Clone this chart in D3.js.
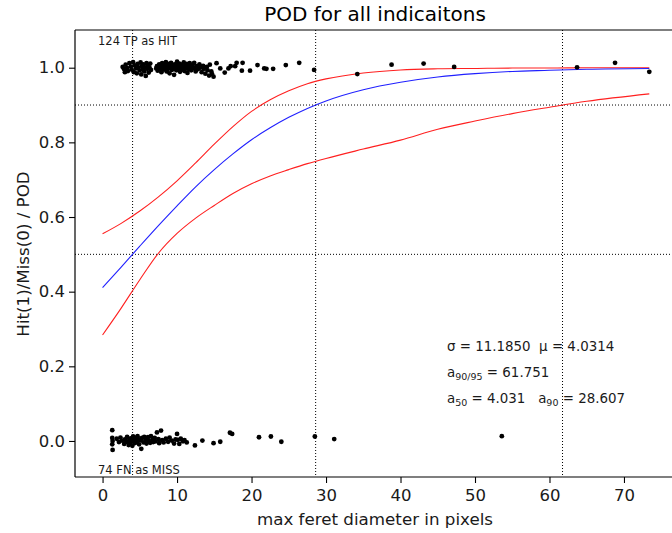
<!DOCTYPE html>
<html lang="en">
<head>
<meta charset="UTF-8">
<title>POD for all indicaitons</title>
<script src="https://d3js.org/d3.v7.min.js"></script>
<style>
  body { margin: 0; background: #fff; }
  svg { display: block; font-family: "DejaVu Sans", sans-serif; }
</style>
</head>
<body>
<script>
// DATA
const xTicks = [0, 10, 20, 30, 40, 50, 60, 70];
const yTicks = [0.0, 0.2, 0.4, 0.6, 0.8, 1.0];

const podX     = [0, 2.5, 5, 7.5, 10, 12.5, 15, 17.5, 20, 22.5, 25, 27.5, 30, 35, 40, 45, 50, 55, 60, 65, 73.4];
const podFit   = [0.411, 0.466, 0.522, 0.577, 0.630, 0.681, 0.727, 0.769, 0.807, 0.839, 0.867, 0.891, 0.911, 0.941, 0.961, 0.975, 0.984, 0.990, 0.993, 0.996, 0.998];
const podUpper = [0.555, 0.583, 0.616, 0.654, 0.697, 0.745, 0.795, 0.842, 0.883, 0.914, 0.938, 0.957, 0.970, 0.986, 0.994, 0.997, 0.998, 0.999, 0.999, 1.0, 1.0];
const podLower = [0.284, 0.356, 0.432, 0.503, 0.556, 0.597, 0.631, 0.663, 0.689, 0.710, 0.727, 0.743, 0.757, 0.782, 0.806, 0.835, 0.857, 0.877, 0.894, 0.910, 0.930];

const hits = [
  [2.7,1.002],[2.9,0.996],[3.1,1.008],[3.3,0.999],[3.4,0.991],[3.6,1.012],[3.8,1.003],[3.9,0.995],
  [4.1,1.015],[4.2,0.988],[4.3,1.006],[4.5,0.998],[4.6,0.985],[4.7,1.010],[4.8,1.001],[5.0,0.993],
  [5.1,1.014],[5.2,0.982],[5.3,1.004],[5.4,0.996],[5.5,1.009],[5.6,0.990],[5.7,1.001],[5.8,0.978],
  [5.9,1.012],[6.0,0.997],[6.1,1.005],[6.2,0.987],[6.3,1.000],[6.4,1.011],[6.5,0.994],[3.0,0.988],
  [7.2,0.998],[7.3,1.004],[7.4,0.992],[7.5,1.001],[7.6,1.009],[7.7,0.996],[7.8,1.000],[7.9,0.988],
  [8.0,1.012],[8.1,1.003],[8.2,0.995],[8.3,1.007],[8.4,0.999],[8.5,1.015],[8.6,0.990],[8.7,1.004],
  [8.8,0.997],[8.9,1.010],[9.0,0.985],[9.1,1.002],[9.2,1.013],[9.3,0.994],[9.4,1.006],[9.5,0.999],
  [9.6,0.981],[9.7,1.009],[9.8,1.001],[9.9,0.993],[10.0,1.016],[10.1,1.004],[10.2,0.996],[10.3,1.011],
  [10.4,0.989],[10.5,1.002],[10.6,1.008],[10.7,0.995],[10.8,1.000],[10.9,1.014],[11.0,0.991],[11.1,1.005],
  [11.2,0.998],[11.3,1.010],[11.4,0.986],[11.5,1.003],[11.6,0.996],[11.7,1.012],[11.8,1.001],[11.9,0.993],
  [12.0,1.007],[12.2,0.999],[12.3,1.013],[12.4,1.000],[12.5,0.990],[12.6,1.004],[12.8,0.996],[13.0,1.009],
  [13.1,1.000],[13.3,0.988],[13.5,1.005],[13.6,0.997],[13.8,0.984],[14.0,1.002],[14.1,0.993],[14.3,0.979],
  [14.4,1.008],[14.6,0.990],[14.7,0.983],[14.9,0.976],
  [15.3,1.012],[15.8,0.998],[16.4,0.987],[16.9,0.998],[17.2,1.004],[17.8,1.004],[18.0,1.013],[18.7,0.992],
  [18.8,1.013],[19.8,0.992],[20.8,1.007],[21.7,0.998],[22.0,0.997],[22.9,0.997],[24.6,1.007],[26.4,1.013],
  [28.4,0.994],[34.2,0.983],[38.8,1.008],[43.1,1.011],[47.2,1.002],[63.7,1.001],[68.8,1.013],[73.4,0.989]
];

const misses = [
  [1.3,0.029],[1.3,0.008],[1.35,0.000],[1.3,-0.009],[1.35,-0.024],
  [1.9,0.006],[2.2,-0.003],[2.4,0.009],[2.6,0.001],[2.9,-0.008],[3.0,0.004],[3.2,-0.002],[3.3,0.011],
  [3.5,-0.011],[3.6,0.003],[3.7,-0.005],[3.8,0.007],[3.9,0.000],[4.0,-0.013],[4.1,0.012],[4.2,0.004],
  [4.3,-0.006],[4.4,0.009],[4.5,0.001],[4.6,-0.003],[4.7,0.013],[4.8,0.005],[4.9,-0.009],[5.1,0.002],
  [5.2,-0.021],[5.3,0.008],[5.5,-0.004],[5.6,0.011],[5.8,0.003],[5.9,-0.007],[6.1,0.010],[6.2,0.000],
  [6.4,-0.005],[6.5,0.013],[6.7,0.004],[6.8,-0.003],[7.0,0.008],[7.1,-0.001],[7.3,0.023],[7.5,0.005],
  [7.6,-0.006],[7.85,0.028],[8.0,0.002],[8.2,-0.004],[8.5,0.006],[8.8,-0.002],[9.0,0.009],[9.3,0.001],
  [9.6,-0.007],[9.8,0.004],[10.0,0.019],[10.1,0.003],[10.3,-0.008],[10.5,0.006],[10.8,-0.001],[11.0,0.002],
  [11.3,-0.004],
  [12.4,-0.012],[13.4,0.001],[14.9,-0.006],[15.8,-0.002],[17.1,0.022],[17.4,0.019],[21.0,0.010],
  [22.6,0.012],[24.0,-0.002],[28.5,0.012],[31.1,0.005],[53.6,0.013]
];

const a50 = 4.031, a90 = 28.607, a9095 = 61.751;
const levels = [0.5, 0.9];

// SVG + SCALES
const W = 672, H = 533;
const svg = d3.select("body").append("svg").attr("width", W).attr("height", H);

const mLeft = 75, mRight = 675, mTop = 30, mBottom = 477;
const x = d3.scaleLinear().domain([-3.7, 76.85]).range([mLeft, mRight]);
const y = d3.scaleLinear().domain([-0.0965, 1.101]).range([mBottom, mTop]);

// reference lines (dotted)
svg.selectAll(".vref").data([a50, a90, a9095]).enter().append("line")
  .attr("x1", d => x(d)).attr("x2", d => x(d))
  .attr("y1", mTop).attr("y2", mBottom)
  .attr("stroke", "#000").attr("stroke-width", 1).attr("stroke-dasharray", "1,2");
svg.selectAll(".href").data(levels).enter().append("line")
  .attr("x1", mLeft).attr("x2", mRight)
  .attr("y1", d => y(d)).attr("y2", d => y(d))
  .attr("stroke", "#000").attr("stroke-width", 1).attr("stroke-dasharray", "1,2");

// curves
const line = vals => d3.line().curve(d3.curveMonotoneX)
  .x((d, i) => x(podX[i])).y(d => y(d))(vals);
svg.append("path").attr("d", line(podUpper)).attr("fill", "none").attr("stroke", "#ff2020").attr("stroke-width", 1.1);
svg.append("path").attr("d", line(podLower)).attr("fill", "none").attr("stroke", "#ff2020").attr("stroke-width", 1.1);
svg.append("path").attr("d", line(podFit)).attr("fill", "none").attr("stroke", "#2020ff").attr("stroke-width", 1.1);

// points
svg.append("g").selectAll("circle").data(hits.concat(misses)).enter().append("circle")
  .attr("cx", d => x(d[0])).attr("cy", d => y(d[1])).attr("r", 2.4).attr("fill", "#000");

// AXES
const xAxis = d3.axisBottom(x).tickValues(xTicks).tickFormat(d3.format("d")).tickSize(6).tickPadding(6);
const yAxis = d3.axisLeft(y).tickValues(yTicks).tickFormat(d3.format(".1f")).tickSize(6).tickPadding(4);
const gx = svg.append("g").attr("transform", `translate(0,${mBottom})`).call(xAxis);
const gy = svg.append("g").attr("transform", `translate(${mLeft},0)`).call(yAxis);
[gx, gy].forEach(g => {
  g.selectAll("text").style("font-size", "16.5px").attr("fill", "#1a1a1a").style("font-family", "DejaVu Sans");
  g.selectAll(".tick line").attr("stroke", "#000").attr("stroke-width", 1.1);
  g.select(".domain").attr("stroke", "#000").attr("stroke-width", 1.2);
});
gx.select(".domain").attr("d", `M${mLeft},0H${mRight}`);
gy.select(".domain").attr("d", `M0,${mTop}V${mBottom}`);
svg.append("line").attr("x1", mLeft).attr("x2", mRight).attr("y1", mTop).attr("y2", mTop)
  .attr("stroke", "#000").attr("stroke-width", 1.2);

// TEXT
svg.append("text").attr("x", 375).attr("y", 21).attr("text-anchor", "middle")
  .style("font-size", "20px").text("POD for all indicaitons");
svg.append("text").attr("x", 375).attr("y", 525).attr("text-anchor", "middle")
  .style("font-size", "16.7px").attr("fill", "#1a1a1a").text("max feret diameter in pixels");
svg.append("text").attr("transform", "translate(29,254) rotate(-90)").attr("text-anchor", "middle")
  .style("font-size", "16.7px").attr("fill", "#1a1a1a").text("Hit(1)/Miss(0) / POD");

svg.append("text").attr("x", 98).attr("y", 45).style("font-size", "11.5px").attr("fill", "#1a1a1a").text("124 TP as HIT");
svg.append("text").attr("x", 98).attr("y", 474).style("font-size", "11.5px").attr("fill", "#1a1a1a").text("74 FN as MISS");

const stat = svg.append("g").style("font-size", "13.4px").attr("fill", "#1a1a1a");
stat.append("text").attr("x", 447).attr("y", 351).attr("xml:space", "preserve").text("σ = 11.1850  μ = 4.0314");
const t2 = stat.append("text").attr("x", 447).attr("y", 377);
t2.append("tspan").text("a");
t2.append("tspan").attr("dy", 3).style("font-size", "9.5px").text("90/95");
t2.append("tspan").attr("dy", -3).text(" = 61.751");
const t3 = stat.append("text").attr("x", 447).attr("y", 403).attr("xml:space", "preserve");
t3.append("tspan").text("a");
t3.append("tspan").attr("dy", 3).style("font-size", "9.5px").text("50");
t3.append("tspan").attr("dy", -3).text(" = 4.031   a");
t3.append("tspan").attr("dy", 3).style("font-size", "9.5px").text("90");
t3.append("tspan").attr("dy", -3).text(" = 28.607");
</script>
</body>
</html>
